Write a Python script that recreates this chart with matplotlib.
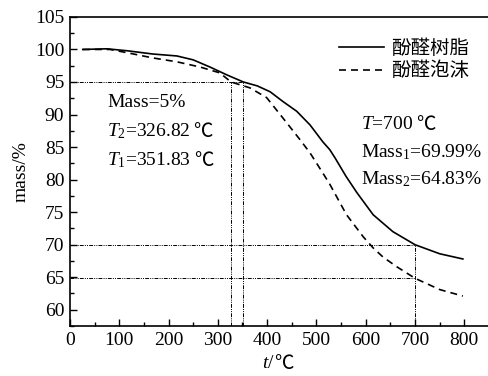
import numpy as np
import matplotlib
matplotlib.use('Agg')
from matplotlib import pyplot as plt
from matplotlib.ticker import MultipleLocator

plt.rcParams['font.family'] = ['Liberation Serif', 'Noto Sans CJK SC', 'DejaVu Sans']
plt.rcParams['mathtext.fontset'] = 'custom'
plt.rcParams['mathtext.rm'] = 'Liberation Serif'
plt.rcParams['mathtext.it'] = 'Liberation Serif:italic'

# readings from the reference picture
temp_resin = [26, 75, 116, 168, 217, 250, 284, 318, 351.83, 380, 406, 432, 460, 487,
              513, 527, 538, 560, 582, 615, 655, 700, 750, 797]
mass_resin = [100.0, 100.1, 99.8, 99.3, 99.0, 98.4, 97.3, 96.1, 95.0, 94.4, 93.5, 92.0, 90.5, 88.4,
              85.8, 84.6, 83.3, 80.5, 78.0, 74.6, 72.0, 69.99, 68.6, 67.8]

temp_foam = [26, 81, 116, 168, 217, 264, 304, 326.82, 365, 399, 419, 440, 467, 487,
             513, 527, 561, 595, 615, 635, 663, 700, 750, 797]
mass_foam = [100.0, 100.0, 99.5, 98.7, 98.1, 97.3, 96.4, 95.0, 94.1, 92.6, 90.7, 88.7, 86.1, 84.1,
             81.0, 79.3, 74.6, 71.2, 69.5, 68.1, 66.6, 64.83, 63.1, 62.1]

labels = ['酚醛树脂', '酚醛泡沫']

t_loss5 = [326.82, 351.83]
t_end = 700
mass_end = [69.99, 64.83]

CJK = ['Noto Sans CJK SC']


def add_degree(ax, txt, size=14, gap=2):
    # ℃ is not in the serif font, so set it right after the text
    ax.annotate('℃', xy=(1, 0.5), xycoords=txt, xytext=(gap, 0),
                textcoords='offset points', va='center', ha='left',
                fontsize=size, family=CJK)


def main():
    fig = plt.figure(figsize=(4.89, 3.76), dpi=100)
    ax = fig.add_axes([0.143, 0.133, 0.857, 0.822])

    ax.plot(temp_resin, mass_resin, 'k-', lw=1.2, label=labels[0])
    ax.plot(temp_foam, mass_foam, 'k--', lw=1.2, dashes=(4.2, 3), label=labels[1])

    guide = dict(color='k', lw=0.7, dashes=(4, 1.2, 1, 1.2, 1, 1.2))
    ax.plot([0, t_loss5[1]], [95, 95], **guide)
    for t in t_loss5:
        ax.plot([t, t], [57.5, 95], **guide)
    for m in mass_end:
        ax.plot([0, t_end], [m, m], **guide)
    ax.plot([t_end, t_end], [57.5, mass_end[0]], **guide)

    ax.set_xlim(0, 850)
    ax.set_ylim(57.5, 105)
    ax.xaxis.set_major_locator(MultipleLocator(100))
    ax.xaxis.set_minor_locator(MultipleLocator(50))
    ax.yaxis.set_major_locator(MultipleLocator(5))
    ax.yaxis.set_minor_locator(MultipleLocator(2.5))
    ax.tick_params(which='both', direction='in', top=False, right=False, labelsize=14, width=1)
    ax.tick_params(which='major', length=5, pad=4)
    ax.tick_params(which='minor', length=3)
    for s in ax.spines.values():
        s.set_linewidth(1.2)
    ax.spines['right'].set_visible(False)

    xl = ax.text(0.49, -0.095, '$t$/', transform=ax.transAxes, fontsize=14,
                 ha='right', va='top')
    add_degree(ax, xl, gap=-1)
    ax.set_ylabel('mass/%', fontsize=14, labelpad=4)

    ax.text(75, 91.8, 'Mass=5%', fontsize=14, va='center')
    add_degree(ax, ax.text(75, 87.4, '$T_2$=326.82', fontsize=14, va='center'))
    add_degree(ax, ax.text(75, 83.0, '$T_1$=351.83', fontsize=14, va='center'))
    add_degree(ax, ax.text(590, 88.4, '$T$=700', fontsize=14, va='center'))
    ax.text(590, 84.2, 'Mass$_1$=69.99%', fontsize=14, va='center')
    ax.text(590, 80.0, 'Mass$_2$=64.83%', fontsize=14, va='center')

    ax.legend(loc='upper left', bbox_to_anchor=(0.6, 0.99), frameon=False,
              handlelength=2.3, handletextpad=0.4, labelspacing=0.1,
              prop={'family': CJK, 'size': 14})

    fig.savefig('out.png', dpi=100)


if __name__ == '__main__':
    main()
